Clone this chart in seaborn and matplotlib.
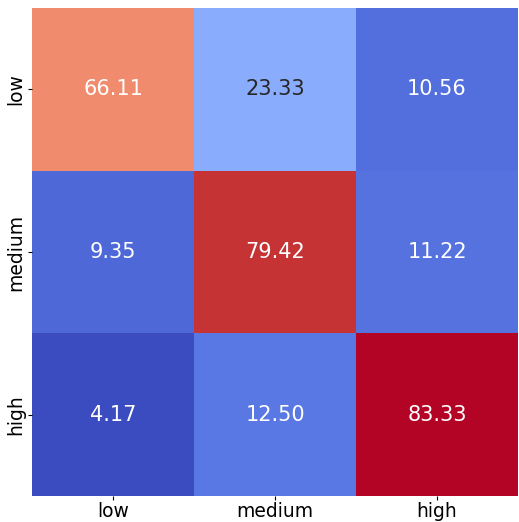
import matplotlib
matplotlib.use("Agg")
import matplotlib.pyplot as plt
import seaborn as sns
import pandas as pd

# class labels and row-normalised percentages
labels = ["low", "medium", "high"]
row_low = [66.11, 23.33, 10.56]
row_medium = [9.35, 79.42, 11.22]
row_high = [4.17, 12.50, 83.33]

df = pd.DataFrame([row_low, row_medium, row_high], index=labels, columns=labels)

fig = plt.figure(figsize=(5.19, 5.22), dpi=100)
ax = fig.add_axes([32/519, 26/522, 486/519, 488/522])
sns.heatmap(df, annot=True, fmt=".2f", cmap="coolwarm", cbar=False,
            annot_kws={"fontsize": 15}, ax=ax)
ax.tick_params(labelsize=13.5, length=3, pad=1.5)
ax.set_yticklabels(labels, rotation=90, va="center")
fig.savefig("out.png", dpi=100)
